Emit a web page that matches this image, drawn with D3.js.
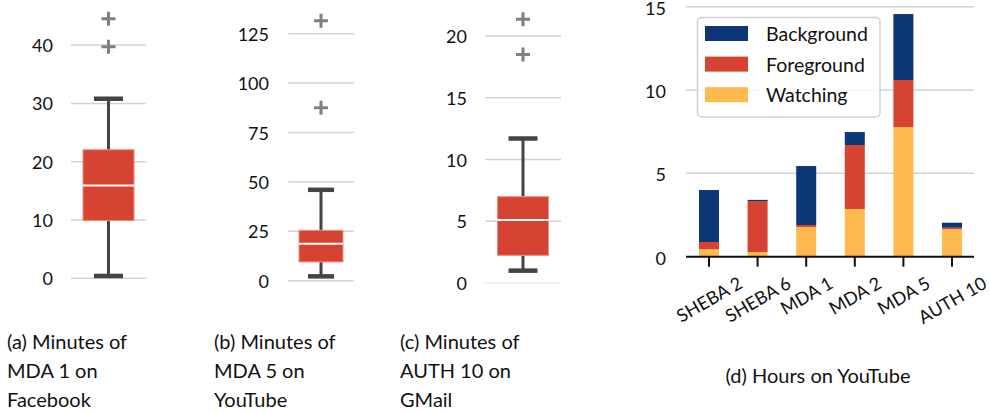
<!DOCTYPE html>
<html>
<head>
<meta charset="utf-8">
<script src="https://cdn.jsdelivr.net/npm/d3@7"></script>
<style>
  body { margin: 0; background: #fff; }
  svg text { font-family: Lato, "Open Sans", sans-serif; fill: #111; }
</style>
</head>
<body>
<svg id="chart" width="989" height="413"></svg>
<script>
// box plot stats: [whisker low, q1, median, q3, whisker high]
const fbStats = [0.4, 9.9, 15.9, 22.05, 30.8];
const fbOutliers = [39.7, 44.5];
const fbTicks = [0, 10, 20, 30, 40];

const ytStats = [2.2, 9.5, 18.7, 25.5, 46];
const ytOutliers = [87.5, 131.6];
const ytTicks = [0, 25, 50, 75, 100, 125];

const gmStats = [1.0, 2.24, 5.1, 6.99, 11.7];
const gmOutliers = [18.5, 21.35];
const gmTicks = [0, 5, 10, 15, 20];

// stacked bars (hours)
const categories = ["SHEBA 2", "SHEBA 6", "MDA 1", "MDA 2", "MDA 5", "AUTH 10"];
const watching = [0.45, 0.28, 1.78, 2.86, 7.78, 1.66];
const foreground = [0.43, 3.06, 0.12, 3.84, 2.82, 0.08];
const background = [3.12, 0.07, 3.54, 0.78, 3.96, 0.30];
const barTicks = [0, 5, 10, 15];
const seriesNames = ["Background", "Foreground", "Watching"];

const colors = { Background: "#0c3675", Foreground: "#d64333", Watching: "#feb94f" };
const boxColor = "#d64333";
const gridColor = "#d2d2d2";

const svg = d3.select("#chart");

function boxPanel(cfg) {
    const y = d3.scaleLinear().domain(cfg.domain).range(cfg.range);
    const g = svg.append("g");
    const [lo, q1, med, q3, hi] = cfg.stats;

    // grid + labels
    cfg.ticks.forEach((t, i) => {
        g.append("line")
            .attr("x1", cfg.gx[0]).attr("x2", cfg.gx[1])
            .attr("y1", y(t)).attr("y2", y(t))
            .attr("stroke", (t === 0 && cfg.faintZero) ? "#ececec" : gridColor)
            .attr("stroke-width", 1.5);
        g.append("text")
            .attr("x", cfg.labelX).attr("y", y(t))
            .attr("text-anchor", "end")
            .attr("dominant-baseline", "central")
            .style("font-size", "18px")
            .text(t);
    });

    const cx = cfg.cx;
    // whiskers
    g.append("line").attr("x1", cx).attr("x2", cx).attr("y1", y(hi)).attr("y2", y(q3))
        .attr("stroke", "#444").attr("stroke-width", 3);
    g.append("line").attr("x1", cx).attr("x2", cx).attr("y1", y(q1)).attr("y2", y(lo))
        .attr("stroke", "#444").attr("stroke-width", 3);
    [lo, hi].forEach(v => {
        g.append("line")
            .attr("x1", cx - cfg.capW / 2).attr("x2", cx + cfg.capW / 2)
            .attr("y1", y(v)).attr("y2", y(v))
            .attr("stroke", "#444").attr("stroke-width", 4.5);
    });
    // box
    g.append("rect")
        .attr("x", cx - cfg.boxW / 2).attr("width", cfg.boxW)
        .attr("y", y(q3)).attr("height", y(q1) - y(q3))
        .attr("fill", boxColor)
        .attr("stroke", "#ea8d82").attr("stroke-width", 1);
    g.append("line")
        .attr("x1", cx - cfg.boxW / 2).attr("x2", cx + cfg.boxW / 2)
        .attr("y1", y(med)).attr("y2", y(med))
        .attr("stroke", "#fff").attr("stroke-width", 2);
    // outliers
    cfg.outliers.forEach(v => {
        g.append("path")
            .attr("d", `M${cx - 7},${y(v)}h14M${cx},${y(v) - 7}v14`)
            .attr("stroke", "#808080").attr("stroke-width", 3).attr("fill", "none");
    });
    // caption
    const cap = g.append("text").style("font-size", "20px");
    cfg.caption.forEach((line, i) => {
        cap.append("tspan").attr("x", cfg.capX).attr("y", 349 + i * 29).text(line);
    });
}

boxPanel({ stats: fbStats, outliers: fbOutliers, ticks: fbTicks, domain: [0, 40], range: [278.3, 45.1],
    gx: [71, 146], cx: 108.5, boxW: 51, capW: 29, labelX: 53,
    caption: ["(a) Minutes of", "MDA 1 on", "Facebook"], capX: 7 });
boxPanel({ stats: ytStats, outliers: ytOutliers, ticks: ytTicks, domain: [0, 125], range: [280.7, 33.7],
    gx: [288.3, 353.7], cx: 321, boxW: 44, capW: 26, labelX: 269,
    caption: ["(b) Minutes of", "MDA 5 on", "YouTube"], capX: 214 });
boxPanel({ stats: gmStats, outliers: gmOutliers, ticks: gmTicks, domain: [0, 20], range: [283, 36],
    gx: [485, 561], cx: 523, boxW: 51, capW: 29, labelX: 467, faintZero: true,
    caption: ["(c) Minutes of", "AUTH 10 on", "GMail"], capX: 400 });

// ---- (d) stacked bars
const yb = d3.scaleLinear().domain([0, 15]).range([256.7, 6.7]);
const xb = d3.scalePoint().domain(categories).range([709, 952]);
const gd = svg.append("g");
const barW = 20;

barTicks.forEach(t => {
    if (t > 0) {
        gd.append("line").attr("x1", 686).attr("x2", 974)
            .attr("y1", yb(t)).attr("y2", yb(t))
            .attr("stroke", gridColor).attr("stroke-width", 1.5);
    }
    gd.append("text").attr("x", 666).attr("y", yb(t) + 1)
        .attr("text-anchor", "end").attr("dominant-baseline", "central")
        .style("font-size", "18px").text(t);
});

const rows = categories.map((c, i) => ({ cat: c, Watching: watching[i], Foreground: foreground[i], Background: background[i] }));
const stack = d3.stack().keys(["Watching", "Foreground", "Background"])(rows);
stack.forEach(layer => {
    gd.selectAll(null).data(layer).enter().append("rect")
        .attr("x", d => xb(d.data.cat) - barW / 2)
        .attr("width", barW)
        .attr("y", d => yb(d[1]))
        .attr("height", d => yb(d[0]) - yb(d[1]))
        .attr("fill", colors[layer.key]);
});

// x axis
gd.append("line").attr("x1", 686).attr("x2", 974).attr("y1", yb(0)).attr("y2", yb(0))
    .attr("stroke", "#111").attr("stroke-width", 2);
categories.forEach(c => {
    gd.append("line").attr("x1", xb(c)).attr("x2", xb(c))
        .attr("y1", yb(0)).attr("y2", yb(0) + 10)
        .attr("stroke", "#111").attr("stroke-width", 2);
    const t = gd.append("text")
        .attr("text-anchor", "middle").attr("dominant-baseline", "central")
        .style("font-size", "18px").text(c);
    const w = t.node().getComputedTextLength();
    const h = 16;
    const a = Math.PI / 6;
    const yc = 274 + (w * Math.sin(a) + h * Math.cos(a)) / 2;
    t.attr("transform", `translate(${xb(c)},${yc}) rotate(-30)`);
});

// legend
const lg = gd.append("g");
lg.append("rect").attr("x", 697.5).attr("y", 17.5).attr("width", 182.5).attr("height", 99.5)
    .attr("rx", 4).attr("fill", "#fff").attr("fill-opacity", 0.85)
    .attr("stroke", "#d0d0d0").attr("stroke-width", 1.5);
seriesNames.forEach((s, i) => {
    lg.append("rect").attr("x", 705).attr("y", 26 + i * 30.6).attr("width", 43).attr("height", 15)
        .attr("fill", colors[s]);
    lg.append("text").attr("x", 766).attr("y", 33.5 + i * 30.6)
        .attr("dominant-baseline", "central").style("font-size", "19.5px").text(s);
});

gd.append("text").attr("x", 818).attr("y", 383).attr("text-anchor", "middle")
    .style("font-size", "20px").text("(d) Hours on YouTube");
</script>
</body>
</html>
